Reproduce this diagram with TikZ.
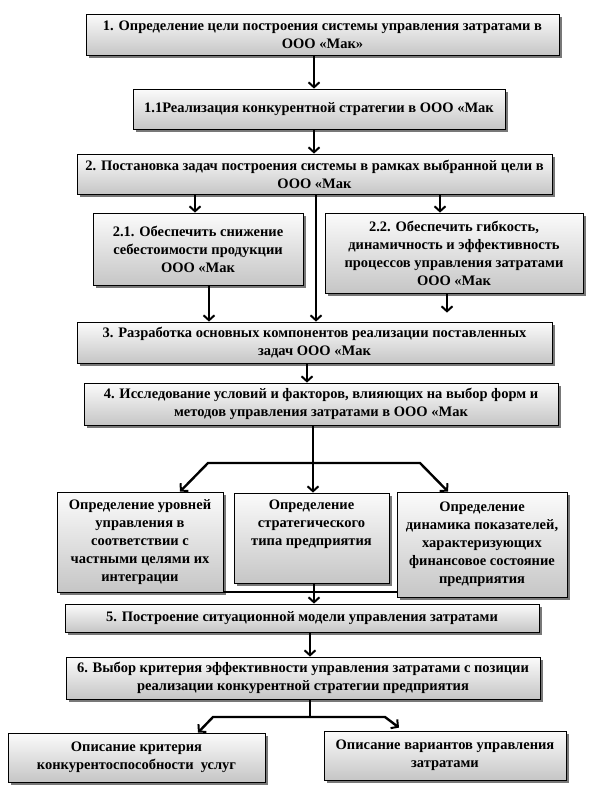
\documentclass[tikz,border=0pt]{standalone}
\usepackage{fontspec}
\setmainfont{Liberation Serif}
\usetikzlibrary{arrows.meta,shadows}
\begin{document}
\begin{tikzpicture}[x=1pt,y=-1pt,
  box/.style={draw=black, line width=0.8pt, top color=gray!3, bottom color=gray!45,
    drop shadow={shadow xshift=2.5pt, shadow yshift=-2.5pt, fill=black!70, opacity=0.75},
    align=center, font=\fontsize{14.5}{18}\selectfont\bfseries, inner sep=0pt},
  txt/.style={align=center, font=\fontsize{14.5}{18}\selectfont\bfseries, inner sep=0pt},
  arr/.style={line width=2.4pt, line join=miter, -{Straight Barb[length=5pt, width=11pt, line width=2pt]}},
  ln/.style={line width=2.4pt}
]
\useasboundingbox (0,0) rectangle (592,790);
\fill[white] (0,0) rectangle (592,790);

\node[box, minimum width=473pt, minimum height=41pt] (B1) at (322.5,34.5)
  {1. Определение цели построения системы управления затратами в\\ООО «Мак»};
\node[box, minimum width=372pt, minimum height=40pt] (B11) at (319,109)
  {1.1Реализация конкурентной стратегии в ООО «Мак};
\node[box, minimum width=475pt, minimum height=40pt] (B2) at (314.5,174)
  {2. Постановка задач построения системы в рамках выбранной цели в\\ООО «Мак};
\node[box, minimum width=210pt, minimum height=72pt] (B21) at (198,249)
  {2.1. Обеспечить снижение\\себестоимости продукции\\ООО «Мак};
\node[box, minimum width=258pt, minimum height=80pt] (B22) at (454,253)
  {2.2. Обеспечить гибкость,\\динамичность и эффективность\\процессов управления затратами\\ООО «Мак};
\node[box, minimum width=475pt, minimum height=41pt] (B3) at (314.5,342.5)
  {3. Разработка основных компонентов реализации поставленных\\задач ООО «Мак};
\node[box, minimum width=474pt, minimum height=42pt] (B4) at (321,404)
  {4. Исследование условий и факторов, влияющих на выбор форм и\\методов управления затратами в ООО «Мак};
\node[box, minimum width=166pt, minimum height=100pt] (BL) at (140,542)
  {Определение уровней\\управления в\\соответствии с\\частными целями их\\интеграции};
\node[box, minimum width=155pt, minimum height=90pt] (BM) at (311.5,538) {};
\node[txt, anchor=north] (BMt) at (311.5,500)
  {Определение\\стратегического\\типа предприятия};
\node[box, minimum width=170pt, minimum height=105pt] (BR) at (482,544.5)
  {Определение\\динамика показателей,\\характеризующих\\финансовое состояние\\предприятия};
\node[box, minimum width=474pt, minimum height=28pt] (B5) at (302,618)
  {5. Построение ситуационной модели управления затратами};
\node[box, minimum width=474pt, minimum height=42pt] (B6) at (303,678)
  {6. Выбор критерия эффективности управления затратами с позиции\\реализации конкурентной стратегии предприятия};
\node[box, minimum width=257pt, minimum height=49pt] (BBL) at (136.5,757.5)
  {Описание критерия\\конкурентоспособности\ \ услуг};
\node[box, minimum width=242pt, minimum height=49pt] (BBR) at (445,755.5)
  {Описание вариантов управления\\затратами};

% vertical x positions
\coordinate (x314) at (314,0);
\coordinate (x307) at (307,0);
\coordinate (x310) at (310,0);
\coordinate (x313) at (313,0);
\coordinate (x195) at (195,0);
\coordinate (x316) at (316,0);
\coordinate (x440) at (440,0);
\coordinate (x209) at (209,0);
\coordinate (x447) at (447,0);

\draw[arr] (B1.south -| x314) -- (B11.north -| x314);
\draw[arr] (B11.south -| x314) -- (B2.north -| x314);
\draw[arr] (B2.south -| x195) -- (B21.north -| x195);
\draw[arr] (B2.south -| x316) -- (B3.north -| x316);
\draw[arr] (B2.south -| x440) -- (B22.north -| x440);
\draw[arr] (B21.south -| x209) -- (B3.north -| x209);
\draw[arr, shorten >=9pt] (B22.south -| x447) -- (B3.north -| x447);
\draw[arr] (B3.south -| x307) -- (B4.north -| x307);

% branching to three boxes
\coordinate (j1) at (313,463);
\coordinate (jl) at (208,463);
\coordinate (jr) at (420,463);
\coordinate (tl) at (180,0);
\coordinate (tr) at (448,0);
\draw[ln] (B4.south -| x313) -- (j1);
\draw[arr] (j1) -- (BM.north -| x313);
\draw[arr] (j1) -- (jl) -- (BL.north -| tl);
\draw[arr] (j1) -- (jr) -- (BR.north -| tr);

% merge to box 5
\coordinate (m) at (0,592);
\draw[ln] (BL.east |- m) -- (BR.west |- m);
\draw[arr] (BM.south -| x314) -- (B5.north -| x314);

\draw[arr] (B5.south -| x310) -- (B6.north -| x310);

% branching to bottom boxes
\coordinate (k) at (310,717);
\coordinate (kl) at (213,717);
\coordinate (kr) at (385,717);
\coordinate (ul) at (198,0);
\coordinate (ur) at (399,0);
\draw[ln] (B6.south -| x310) -- (k);
\draw[arr] (k) -- (kl) -- (BBL.north -| ul);
\draw[arr] (k) -- (kr) -- ([yshift=3pt]BBR.north -| ur);
\end{tikzpicture}
\end{document}
